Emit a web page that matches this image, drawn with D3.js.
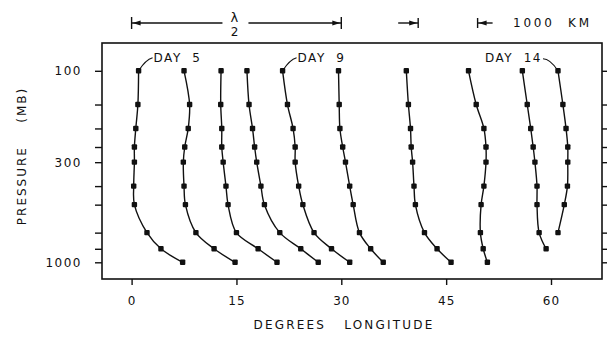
<!DOCTYPE html>
<html>
<head>
<meta charset="utf-8">
<script src="https://cdn.jsdelivr.net/npm/d3@7"></script>
<style>
  body { margin: 0; background: #fff; }
  text { font-family: "DejaVu Sans", sans-serif; fill: #111; white-space: pre; }
</style>
</head>
<body>
<svg id="chart" width="607" height="342"></svg>
<script>
// pressure levels (mb) shared by all profiles
const pressure = [100, 150, 200, 250, 300, 400, 500, 700, 850, 1000];
const pressureTicks = [100, 300, 1000];
const lonTicks = [0, 15, 30, 45, 60];

// trough longitude (deg) at each level, one profile per day
const lonDay5  = [1.0, 0.9, 0.6, 0.4, 0.4, 0.3, 0.4, 2.2, 4.2, 7.3];
const lonDay6  = [7.5, 8.3, 8.1, 7.6, 7.4, 7.5, 7.7, 9.2, 11.8, 14.8];
const lonDay7  = [12.8, 12.75, 12.9, 12.9, 13.1, 13.5, 13.8, 15.0, 18.1, 20.8];
const lonDay8  = [16.5, 16.8, 17.3, 17.6, 17.9, 18.5, 19.0, 21.2, 24.2, 26.7];
const lonDay9  = [21.6, 22.3, 23.1, 23.4, 23.4, 23.9, 24.5, 26.1, 28.6, 31.2];
const lonDay10 = [29.6, 29.7, 29.8, 30.2, 30.6, 31.2, 31.7, 32.6, 34.2, 36.0];
const lonDay11 = [39.3, 39.6, 39.9, 40.0, 40.2, 40.4, 40.6, 41.9, 43.7, 45.7];
const lonDay12 = [48.2, 49.3, 50.4, 50.7, 50.7, 50.4, 50.0, 49.9, 50.3, 50.9];
const lonDay13 = [55.9, 56.6, 57.1, 57.45, 57.7, 58.0, 58.0, 58.3, 59.3];
const lonDay14 = [61.0, 61.7, 62.15, 62.4, 62.4, 62.35, 61.9, 61.0];

const profiles = [lonDay5, lonDay6, lonDay7, lonDay8, lonDay9,
                  lonDay10, lonDay11, lonDay12, lonDay13, lonDay14];
const labelled = [{day: "DAY 5", idx: 0}, {day: "DAY 9", idx: 4}, {day: "DAY 14", idx: 9}];

// scale bar annotations (deg longitude)
const halfWave = [0, 30];
const kmMarks = [41, 49.5];

const svg = d3.select('#chart');
const frame = {left: 102, right: 602, top: 43, bottom: 279};

const x = d3.scaleLinear().domain([0, 60]).range([131.6, 551]);
const y = d3.scaleLog().domain([100, 1000]).range([70.8, 262.3]);

// frame
svg.append('rect')
    .attr('x', frame.left).attr('y', frame.top)
    .attr('width', frame.right - frame.left)
    .attr('height', frame.bottom - frame.top)
    .attr('fill', 'none').attr('stroke', '#111').attr('stroke-width', 1.6);

// x axis
const xAxis = svg.append('g')
    .attr('transform', 'translate(0,' + frame.bottom + ')')
    .call(d3.axisBottom(x).tickValues(lonTicks).tickSize(6).tickSizeOuter(0));
xAxis.select('.domain').remove();
xAxis.selectAll('line').attr('stroke', '#111').attr('stroke-width', 1.4);
xAxis.selectAll('text').attr('dy', 0).attr('y', 26)
    .style('font-size', '12px').style('letter-spacing', '1px');

// y axis left + right ticks
const yLeft = svg.append('g')
    .attr('transform', 'translate(' + frame.left + ',0)')
    .call(d3.axisLeft(y).tickValues(pressure).tickSize(7).tickSizeOuter(0)
      .tickFormat(d => pressureTicks.includes(d) ? d : ''));
yLeft.select('.domain').remove();
yLeft.selectAll('line').attr('stroke', '#111').attr('stroke-width', 1.4);
yLeft.selectAll('text').attr('x', -20)
    .style('font-size', '12px').style('letter-spacing', '1.5px');

const yRight = svg.append('g')
    .attr('transform', 'translate(' + frame.right + ',0)')
    .call(d3.axisRight(y).tickValues(pressure).tickSize(5).tickSizeOuter(0).tickFormat(''));
yRight.select('.domain').remove();
yRight.selectAll('line').attr('stroke', '#111').attr('stroke-width', 1.4);

// axis titles
svg.append('text')
    .attr('x', 344).attr('y', 329)
    .attr('text-anchor', 'middle')
    .style('font-size', '12px').style('letter-spacing', '2.2px')
    .text('DEGREES   LONGITUDE');

svg.append('text')
    .attr('transform', 'translate(26,156) rotate(-90)')
    .attr('text-anchor', 'middle')
    .style('font-size', '12px').style('letter-spacing', '2px')
    .text('PRESSURE    (MB)');

// profiles
const line = d3.line()
    .x(d => x(d[0]))
    .y(d => y(d[1]))
    .curve(d3.curveCatmullRom.alpha(0.5));

profiles.forEach(function(p) {
  const pts = p.map((v, i) => [v, pressure[i]]);
  svg.append('path')
      .datum(pts)
      .attr('d', line)
      .attr('fill', 'none')
      .attr('stroke', '#111')
      .attr('stroke-width', 1.4);
  svg.selectAll(null)
      .data(pts)
      .enter()
      .append('rect')
      .attr('x', d => x(d[0]) - 2.7)
      .attr('y', d => y(d[1]) - 2.7)
      .attr('width', 5.4).attr('height', 5.4)
      .attr('rx', 1)
      .attr('fill', '#111');
});

// day labels with leader lines
labelled.forEach(function(l) {
  const px = x(profiles[l.idx][0]);
  const py = y(pressure[0]);
  const right = l.idx === 9;
  const tx = right ? px - 16 : px + 15;
  svg.append('path')
      .attr('d', right
        ? 'M' + px + ',' + py + ' Q' + (px - 8) + ',' + (py - 12) + ' ' + (px - 15) + ',' + (py - 12)
        : 'M' + px + ',' + py + ' Q' + (px + 7) + ',' + (py - 11) + ' ' + (px + 14) + ',' + (py - 13))
      .attr('fill', 'none').attr('stroke', '#111').attr('stroke-width', 1.1);
  svg.append('text')
      .attr('x', tx).attr('y', py - 9)
      .attr('text-anchor', right ? 'end' : 'start')
      .style('font-size', '12px').style('letter-spacing', '1.5px')
      .text(l.day.replace(' ', '  '));
});

// half wavelength bar
const barY = 23;
const g = svg.append('g').attr('stroke', '#111').attr('stroke-width', 1.4);
const x0 = x(halfWave[0]), x1 = x(halfWave[1]);
const mid = (x0 + x1) / 2;
g.append('line').attr('x1', x0).attr('x2', x0).attr('y1', barY - 6).attr('y2', barY + 6);
g.append('line').attr('x1', x1).attr('x2', x1).attr('y1', barY - 6).attr('y2', barY + 6);
g.append('line').attr('x1', x0).attr('x2', mid - 14).attr('y1', barY).attr('y2', barY);
g.append('line').attr('x1', mid + 12).attr('x2', x1).attr('y1', barY).attr('y2', barY);

function arrowHead(xTip, dir) {
  svg.append('path')
      .attr('d', 'M' + xTip + ',' + barY + ' L' + (xTip + dir * 8) + ',' + (barY - 2.5) +
                 ' L' + (xTip + dir * 8) + ',' + (barY + 2.5) + 'Z')
      .attr('fill', '#111');
}
arrowHead(x0 + 1, 1);
arrowHead(x1 - 1, -1);

svg.append('text').attr('x', mid - 2).attr('y', barY - 1)
    .attr('text-anchor', 'middle').style('font-size', '13px').text('λ');
svg.append('text').attr('x', mid - 2).attr('y', barY + 13)
    .attr('text-anchor', 'middle').style('font-size', '12px').text('2');

// 1000 km bar
const k0 = x(kmMarks[0]), k1 = x(kmMarks[1]);
g.append('line').attr('x1', k0).attr('x2', k0).attr('y1', barY - 5).attr('y2', barY + 5);
g.append('line').attr('x1', k0 - 20).attr('x2', k0).attr('y1', barY).attr('y2', barY);
g.append('line').attr('x1', k1).attr('x2', k1).attr('y1', barY - 5).attr('y2', barY + 5);
g.append('line').attr('x1', k1).attr('x2', k1 + 15).attr('y1', barY).attr('y2', barY);
arrowHead(k0 - 1, -1);
arrowHead(k1 + 1, 1);

svg.append('text').attr('x', 513).attr('y', barY + 4)
    .style('font-size', '12px').style('letter-spacing', '2.8px')
    .text('1000  KM');
</script>
</body>
</html>
